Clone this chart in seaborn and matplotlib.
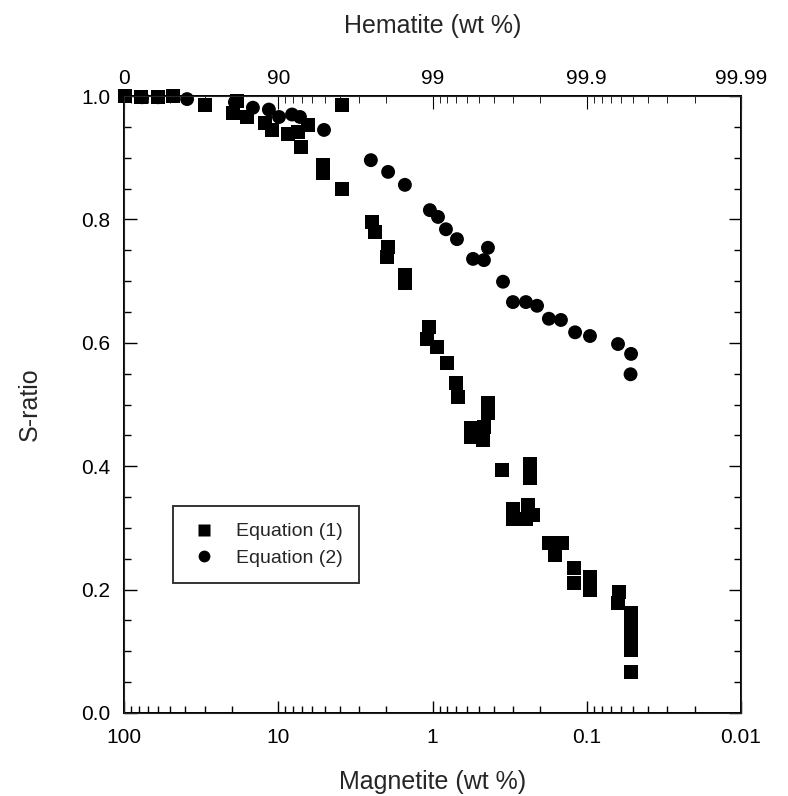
import matplotlib
matplotlib.use("Agg")
import matplotlib.pyplot as plt
import matplotlib.ticker as mticker
import pandas as pd
import seaborn as sns

# magnetite wt % and S-ratio
eq1_magnetite = [
    98.5, 77.6, 60.2, 48.1, 29.8, 18.5, 19.6, 16.0, 12.2, 11.0,
    8.65, 7.45, 6.41, 7.12, 5.13, 5.13, 3.86, 3.86, 2.47, 2.36,
    1.94, 1.97, 1.51, 1.51, 1.05, 1.09, 0.935, 0.805, 0.704, 0.684,
    0.437, 0.437, 0.563, 0.563, 0.464, 0.471, 0.354, 0.233, 0.233, 0.301,
    0.240, 0.223, 0.301, 0.248, 0.176, 0.145, 0.161, 0.121, 0.121, 0.0953,
    0.0953, 0.0618, 0.0627, 0.052, 0.052, 0.052, 0.052, 0.052,
]
eq1_sratio = [
    1.000, 0.998, 0.998, 1.000, 0.985, 0.992, 0.972, 0.966, 0.956, 0.945,
    0.938, 0.942, 0.953, 0.917, 0.888, 0.875, 0.985, 0.849, 0.796, 0.780,
    0.755, 0.739, 0.710, 0.697, 0.626, 0.606, 0.593, 0.567, 0.535, 0.512,
    0.502, 0.486, 0.462, 0.447, 0.464, 0.442, 0.394, 0.404, 0.381, 0.331,
    0.337, 0.321, 0.314, 0.314, 0.276, 0.276, 0.256, 0.235, 0.211, 0.220,
    0.199, 0.196, 0.178, 0.162, 0.143, 0.123, 0.102, 0.066,
]
eq2_magnetite = [
    76.4, 60.2, 39.0, 19.1, 14.6, 11.5, 9.89, 8.14, 7.23, 5.05,
    2.51, 1.94, 1.51, 1.04, 0.921, 0.818, 0.694, 0.546, 0.464, 0.437,
    0.349, 0.301, 0.248, 0.210, 0.176, 0.147, 0.119, 0.0953, 0.0627, 0.0516,
    0.052,
]
eq2_sratio = [
    0.998, 0.998, 0.995, 0.990, 0.981, 0.978, 0.966, 0.970, 0.966, 0.945,
    0.896, 0.877, 0.856, 0.815, 0.804, 0.784, 0.768, 0.736, 0.734, 0.754,
    0.699, 0.666, 0.666, 0.660, 0.639, 0.637, 0.617, 0.611, 0.598, 0.582,
    0.549,
]

major_ticks = [100, 10, 1, 0.1, 0.01]
bottom_labels = ["100", "10", "1", "0.1", "0.01"]
top_labels = ["0", "90", "99", "99.9", "99.99"]

df = pd.concat(
    [
        pd.DataFrame({"magnetite": eq1_magnetite, "sratio": eq1_sratio, "eq": "Equation (1)"}),
        pd.DataFrame({"magnetite": eq2_magnetite, "sratio": eq2_sratio, "eq": "Equation (2)"}),
    ],
    ignore_index=True,
)

sns.set_style("ticks")
plt.rcParams["font.family"] = ["Liberation Sans", "DejaVu Sans"]

fig = plt.figure(figsize=(7.88, 7.96), dpi=100)
ax = fig.add_axes([124 / 788, 1 - 713 / 796, 617 / 788, 617 / 796])

sns.scatterplot(
    data=df, x="magnetite", y="sratio", style="eq",
    markers={"Equation (1)": "s", "Equation (2)": "o"},
    color="black", edgecolor="none", s=90, ax=ax, clip_on=False, zorder=3,
)
# circles are a bit smaller than squares
for coll, size in zip(ax.collections, [100, 75]):
    coll.set_sizes([size])

ax.set_xscale("log")
ax.set_xlim(100, 0.01)
ax.set_ylim(0, 1.0)
ax.set_xticks(major_ticks, labels=bottom_labels)
ax.xaxis.set_minor_locator(mticker.LogLocator(base=10, subs=range(2, 10)))
ax.xaxis.set_minor_formatter(mticker.NullFormatter())
ax.set_yticks([0, 0.2, 0.4, 0.6, 0.8, 1.0], labels=["0.0", "0.2", "0.4", "0.6", "0.8", "1.0"])
ax.yaxis.set_minor_locator(mticker.MultipleLocator(0.05))
ax.tick_params(which="both", direction="in", right=True, labelsize=15, width=1, colors="black")
ax.tick_params(which="major", length=9)
ax.tick_params(axis="x", which="major", pad=11)
ax.tick_params(axis="y", which="major", pad=10)
ax.tick_params(which="minor", length=5)
for sp in ax.spines.values():
    sp.set_linewidth(1.4)
    sp.set_color("black")
ax.set_xlabel("Magnetite (wt %)", fontsize=18, labelpad=16)
ax.set_ylabel("S-ratio", fontsize=18, labelpad=28)

top = ax.twiny()
top.set_xscale("log")
top.set_xlim(ax.get_xlim())
top.set_xticks(major_ticks, labels=top_labels)
top.xaxis.set_minor_locator(mticker.LogLocator(base=10, subs=range(2, 10)))
top.xaxis.set_minor_formatter(mticker.NullFormatter())
top.tick_params(which="both", direction="in", labelsize=15, colors="black")
top.tick_params(which="major", length=9, pad=6)
top.tick_params(which="minor", length=5)
top.set_xlabel("Hematite (wt %)", fontsize=18, labelpad=26)

leg = ax.legend(
    loc="upper left", bbox_to_anchor=(0.079, 0.335), frameon=True, fancybox=False,
    edgecolor="black", fontsize=14, handlelength=1.5, handletextpad=0.9,
    borderpad=0.85, labelspacing=0.45, borderaxespad=0, title=None,
)
leg.get_frame().set_linewidth(1.4)
for h in leg.legend_handles:
    h.set_markersize(8.5)

fig.savefig("out.png", dpi=100)
